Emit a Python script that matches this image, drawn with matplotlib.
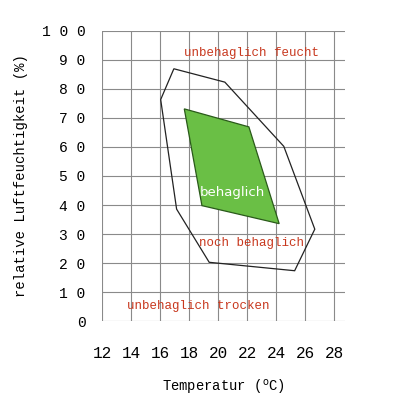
import matplotlib.pyplot as plt

# Behaglichkeitsfeld: Temperatur / relative Luftfeuchtigkeit
aussen_t = [16.94, 20.46, 24.53, 26.67, 25.28, 19.38, 17.13, 16.03]
aussen_rh = [86.9, 82.3, 60.2, 31.7, 17.4, 20.3, 38.6, 76.3]
innen_t = [17.66, 22.12, 24.21, 18.88]
innen_rh = [73.1, 66.9, 33.6, 39.8]
x_ticks = [12, 14, 16, 18, 20, 22, 24, 26, 28]
y_ticks = [0, 10, 20, 30, 40, 50, 60, 70, 80, 90, 100]

mono = "Liberation Mono"
rot = "#c8381e"

fig = plt.figure(figsize=(4.05, 4.05), dpi=100)
ax = fig.add_axes([0.2526, 0.2067, 0.852 - 0.2526, 0.9242 - 0.2067])
ax.set_xlim(12, 28.76)
ax.set_ylim(0, 100)
ax.set_xticks(x_ticks)
ax.set_yticks(y_ticks)
ax.grid(True, color="#8a8a8a", linewidth=0.8)
ax.set_axisbelow(True)
for s in ax.spines.values():
    s.set_visible(False)
ax.tick_params(length=0)
ax.set_xticklabels([str(t) for t in x_ticks], family=mono, fontsize=11.5)
ax.set_yticklabels([" ".join(str(t)) for t in y_ticks], family=mono, fontsize=10.5)
ax.tick_params(axis="x", pad=18)
ax.tick_params(axis="y", pad=12)

ax.fill(aussen_t + aussen_t[:1], aussen_rh + aussen_rh[:1], facecolor="none",
        edgecolor="#222222", linewidth=0.9)
ax.fill(innen_t, innen_rh, facecolor="#6abf45", edgecolor="#2a5a1a", linewidth=0.9)

ax.text(22.28, 92.3, "unbehaglich feucht", color=rot, family=mono, fontsize=9,
        ha="center", va="center")
ax.text(21.0, 44.2, "behaglich", color="white", fontsize=9.5, ha="center", va="center")
ax.text(22.3, 27.1, "noch behaglich", color=rot, family=mono, fontsize=9,
        ha="center", va="center")
ax.text(18.6, 5.4, "unbehaglich trocken", color=rot, family=mono, fontsize=9,
        ha="center", va="center")

ax.set_xlabel("Temperatur ($^{\\rm o}$C)", family=mono, fontsize=10, labelpad=12)
ax.set_ylabel("relative Luftfeuchtigkeit (%)", family=mono, fontsize=10, labelpad=10)

plt.savefig("out.png", dpi=100)
plt.close()
